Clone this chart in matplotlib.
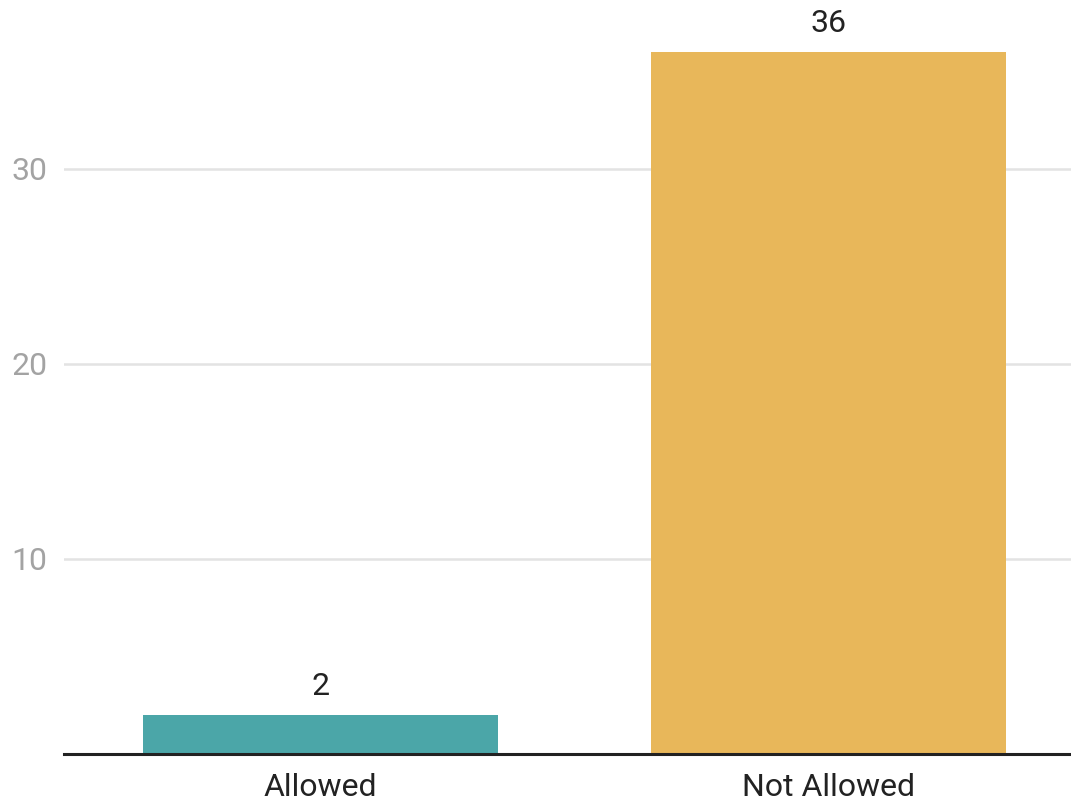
import matplotlib.pyplot as plt

categories = ["Allowed", "Not Allowed"]
counts = [2, 36]
bar_colors = ["#4BA6A8", "#E8B75A"]
y_ticks = [10, 20, 30]

plt.rcParams["font.family"] = ["Roboto", "DejaVu Sans"]

fig = plt.figure(figsize=(10.71, 8.02), dpi=100)
ax = fig.add_axes([64 / 1071, 48 / 802, 1 - 64 / 1071, 754 / 802])

x = list(range(len(categories)))
ax.bar(x, counts, width=0.7, color=bar_colors, zorder=2)

for xi, v in zip(x, counts):
    ax.annotate(
        str(v),
        (xi, v),
        xytext=(0, 10),
        textcoords="offset points",
        ha="center",
        va="bottom",
        fontsize=23,
        color="#222222"
    )

ax.set_xlim(-0.505, 1.477)
ax.set_ylim(0, 754 / 19.5)

ax.set_yticks(y_ticks)
ax.set_xticks(x)
ax.set_xticklabels(categories)

ax.grid(axis="y", color="#e3e3e3", linewidth=1.8, zorder=0)
ax.tick_params(axis="y", length=0, pad=12, labelsize=23, labelcolor="#a3a3a3")
ax.tick_params(axis="x", length=0, pad=14, labelsize=23, labelcolor="#222222")

for side in ["top", "right", "left"]:
    ax.spines[side].set_visible(False)
ax.spines["bottom"].set_color("#222222")
ax.spines["bottom"].set_linewidth(2.2)
ax.spines["bottom"].set_zorder(3)

fig.savefig("out.png", dpi=100)
